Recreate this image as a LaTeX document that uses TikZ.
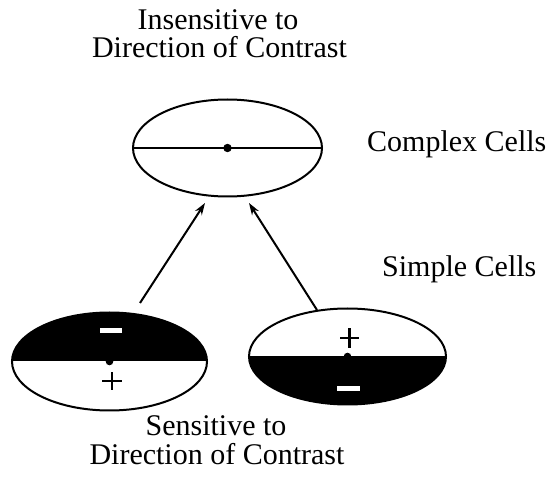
\documentclass[tikz,border=0pt]{standalone}
\usepackage{fontspec}
\setmainfont{Liberation Serif}
\usetikzlibrary{arrows.meta,shapes.geometric}
\begin{document}
\begin{tikzpicture}[x=1pt,y=1pt,
  lbl/.style={font=\fontsize{30}{26}\selectfont, inner sep=0pt, anchor=base},
  cell/.style={draw, ellipse, inner sep=0pt, line width=2pt},
  halfup/.style={path picture={\fill (path picture bounding box.north west) rectangle (path picture bounding box.east);}},
  halfdown/.style={path picture={\fill (path picture bounding box.west) rectangle (path picture bounding box.south east);}},
  conn/.style={line width=2pt, -{Stealth[length=12pt,width=8pt]}},
  sign/.style={line width=2.2pt}]
\useasboundingbox (0,0) rectangle (550,480);

% texts
\node[lbl] (t1) at (218,450) {Insensitive to};
\node[lbl] (t2) at (219.5,422) {Direction of Contrast};
\node[lbl, anchor=base west] (cc) at (367,328) {Complex Cells};
\node[lbl, anchor=base west] (sc) at (382,203) {Simple Cells};
\node[lbl] (b1) at (216,44) {Sensitive to};
\node[lbl] (b2) at (217,15) {Direction of Contrast};

% complex cell
\node[cell, minimum width=189pt, minimum height=97pt] (cx) at (227.5,332) {};
\draw[line width=2.6pt] (cx.west) -- (cx.east);
\fill (cx.center) circle (4.2);

% simple cell left
\node[cell, halfup, minimum width=195pt, minimum height=98pt] (sl) at (109.5,118.5) {};
\fill (sl.center) circle (3.8);
\fill[white] (100,147) rectangle (122,151.5);
\draw[sign] (102,99) -- (122,99);
\draw[sign] (112,90) -- (112,108);

% simple cell right
\node[cell, halfdown, minimum width=197pt, minimum height=96pt] (sr) at (347.5,123.5) {};
\fill (sr.center) circle (3.8);
\draw[sign] (340,142) -- (359,142);
\draw[sign] (349.5,132) -- (349.5,152);
\fill[white] (337,89) rectangle (360,93.5);

% connectors
\coordinate (la) at (140,177);
\coordinate (lb) at (205,277);
\coordinate (ra) at (317,170);
\coordinate (rb) at (249,277);
\draw[conn] (la) -- (lb);
\draw[conn] (ra) -- (rb);
\end{tikzpicture}
\end{document}
